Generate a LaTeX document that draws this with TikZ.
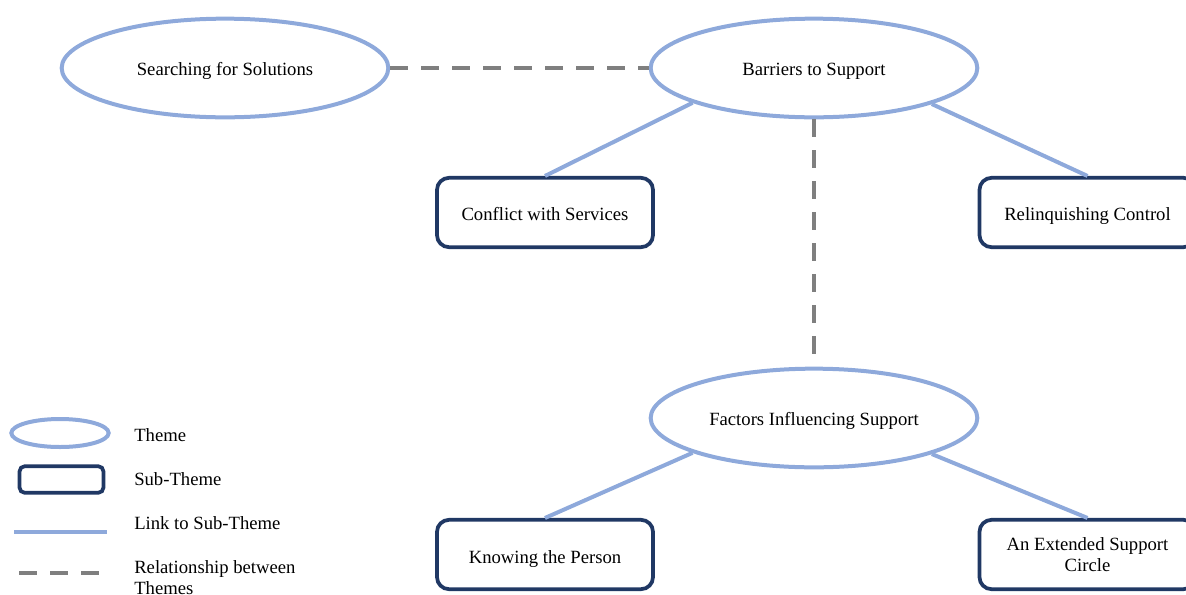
\documentclass[tikz,border=0pt]{standalone}
\usepackage{fontspec}
\setmainfont{Liberation Serif}
\usetikzlibrary{shapes.geometric}
\definecolor{themeblue}{HTML}{8EA9DB}
\definecolor{subnavy}{HTML}{203864}
\definecolor{relgrey}{HTML}{7F7F7F}
\begin{document}
\begin{tikzpicture}[x=0.75pt,y=-0.75pt,
  font=\fontsize{14}{15.75}\selectfont,
  theme/.style={ellipse,draw=themeblue,line width=3pt,minimum width=245pt,minimum height=74pt,inner sep=0pt,align=center},
  subtheme/.style={draw=subnavy,line width=2.8pt,rounded corners=9pt,minimum width=162pt,minimum height=52pt,inner sep=0pt,align=center},
  oneline/.style={text height=12pt,text depth=0.5pt},
  link/.style={draw=themeblue,line width=3pt},
  rel/.style={draw=relgrey,line width=3pt,dash pattern=on 13.5pt off 9.75pt},
  legtext/.style={anchor=west,inner sep=0pt,align=left}]
\useasboundingbox (0,0) rectangle (1186,594);
\clip (0,0) rectangle (1186,594);
\node[theme,oneline] (sfs) at (225,68) {Searching for Solutions};
\node[theme,oneline] (bts) at (814,68) {Barriers to Support};
\node[theme,oneline] (fis) at (814,418) {Factors Influencing Support};
\node[subtheme,oneline] (cws) at (545,212.5) {Conflict with Services};
\node[subtheme,oneline] (rc) at (1087.5,212.5) {Relinquishing Control};
\node[subtheme,text height=13pt,text depth=0pt] (ktp) at (545,554.5) {Knowing the Person};
\node[subtheme] (esc) at (1087.5,554.5) {An Extended Support\\Circle};
\draw[rel] (sfs.east) -- (bts.west);
\draw[rel] (bts.south) -- (fis.north);
\draw[link] (bts.196.7) -- (cws.north);
\draw[link] (bts.343.3) -- (rc.north);
\draw[link] (fis.196.7) -- (ktp.north);
\draw[link] (fis.343.3) -- (esc.north);
% legend
\node[ellipse,draw=themeblue,line width=3pt,minimum width=73pt,minimum height=21pt,inner sep=0pt] (lgth) at (60,433) {};
\node[draw=subnavy,line width=2.8pt,rounded corners=4pt,minimum width=63pt,minimum height=20pt,inner sep=0pt] (lgsub) at (61.5,479.5) {};
\coordinate (lla) at (14,532);
\coordinate (llb) at (107,532);
\draw[link] (lla) -- (llb);
\coordinate (lra) at (19,573);
\coordinate (lrb) at (99,573);
\draw[rel] (lra) -- (lrb);
\node[legtext] (t1) at (134,435) {Theme};
\node[legtext] (t2) at (134,479) {Sub-Theme};
\node[legtext] (t3) at (134,523) {Link to Sub-Theme};
\node[legtext] (t4) at (134,578) {Relationship between\\Themes};
\end{tikzpicture}
\end{document}
